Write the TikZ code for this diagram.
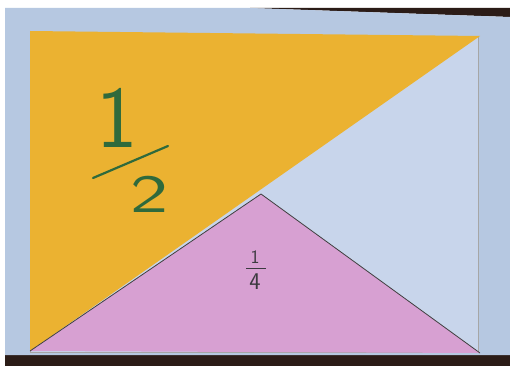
\documentclass[tikz,border=0pt]{standalone}
\usepackage{tikz}
\usetikzlibrary{positioning}

\definecolor{board}{HTML}{B6C8E1}
\definecolor{sheet}{HTML}{C8D5EB}
\definecolor{table}{HTML}{2B1C17}
\definecolor{halfyellow}{HTML}{EBB231}
\definecolor{quarterpink}{HTML}{D7A0D2}
\definecolor{ink}{HTML}{2F6A3C}
\definecolor{pencil}{HTML}{3C3A40}

\begin{document}
\begin{tikzpicture}[
  x=1pt, y=-1pt,
  paper/.style={fill=sheet, draw=gray!70, line width=0.5pt},
  half/.style={fill=halfyellow},
  quarter/.style={fill=quarterpink},
  cut/.style={draw=black!75, line width=0.8pt, line join=round},
  pen/.style={text=ink, inner sep=0pt},
  lead/.style={text=pencil, inner sep=0pt}
]
\useasboundingbox (0,0) rectangle (510,366);

% background: wall, table and board
\fill[white] (0,0) rectangle (510,366);
\fill[table] (250,8) -- (510,8) -- (510,17) -- cycle;
\fill[table] (5,355) rectangle (510,366);
\fill[board] (5,8) -- (250,8) -- (510,17) -- (510,355) -- (5,355) -- cycle;

% corners of the sheet
\coordinate (tl) at (30,31);
\coordinate (tr) at (480,36);
\coordinate (bl) at (30,351);
\coordinate (br) at (480,353);
\coordinate (apex) at (261,194);

\fill[paper] (30,36) rectangle (478,352);

% the two pieces
\fill[half] (tl) -- (tr) -- (bl) -- cycle;
\fill[quarter] (bl) -- (apex) -- (br) -- cycle;
\draw[cut] (bl) -- (apex) -- (br);

% one half
\node[pen, font=\sffamily\fontsize{88}{88}\selectfont] (h1) at (117,118) {1};
\coordinate (hbarL) at (93,178);
\coordinate (hbarR) at (168,146);
\draw[ink, line width=2.2pt, line cap=round] (hbarL) -- (hbarR);
\node[pen, font=\sffamily\fontsize{54}{54}\selectfont, xscale=1.5] (h2) at (150,194) {2};

% one quarter
\node[lead, font=\sffamily\fontsize{19}{19}\selectfont] (q1) at (255,257) {1};
\coordinate (qbarL) at (246,268);
\coordinate (qbarR) at (266,268);
\draw[pencil, line width=0.8pt] (qbarL) -- (qbarR);
\node[lead, font=\sffamily\fontsize{24}{24}\selectfont] (q4) at (255,282) {4};
\end{tikzpicture}
\end{document}
